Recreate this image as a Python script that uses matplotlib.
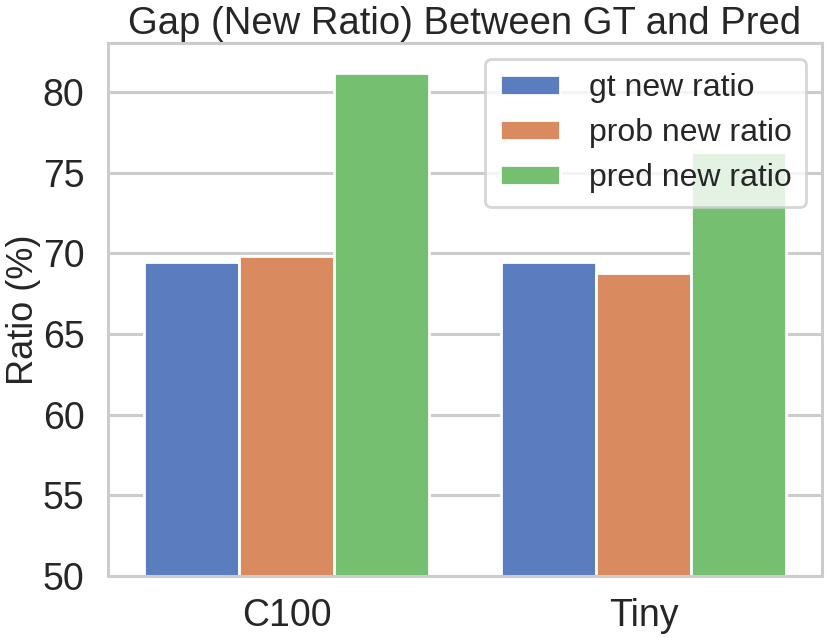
import pandas as pd
import seaborn as sns
import matplotlib
matplotlib.use("Agg")
import matplotlib.pyplot as plt

# ---- data ----
datasets = ["C100", "Tiny"]
gt_ratio = [69.45, 69.45]
prob_ratio = [69.85, 68.8]
pred_ratio = [81.15, 76.25]
series_names = ["gt new ratio", "prob new ratio", "pred new ratio"]

rows = []
for name, vals in zip(series_names, [gt_ratio, prob_ratio, pred_ratio]):
    for d, v in zip(datasets, vals):
        rows.append({"dataset": d, "type": name, "ratio": v})
df = pd.DataFrame(rows)

sns.set_theme(style="whitegrid", palette="muted")
plt.rcParams["font.family"] = ["Liberation Sans", "DejaVu Sans"]
plt.rcParams["axes.linewidth"] = 2.2
plt.rcParams["grid.linewidth"] = 2.2
plt.rcParams["axes.edgecolor"] = "#cccccc"
plt.rcParams["grid.color"] = "#cccccc"

fig, ax = plt.subplots(figsize=(8.31, 6.38), dpi=100)
fig.subplots_adjust(left=0.130, right=0.989, bottom=0.097, top=0.933)

sns.barplot(data=df, x="dataset", y="ratio", hue="type", ax=ax,
            linewidth=2, edgecolor="white")

ax.set_ylim(50, 83.05)
ax.set_xlim(-0.5, 1.5)
ax.set_xlabel("")
ax.set_ylabel("Ratio (%)", fontsize=26, labelpad=1)
ax.set_title("Gap (New Ratio) Between GT and Pred", fontsize=27.5, pad=6)
ax.tick_params(axis="y", labelsize=27, pad=11)
ax.tick_params(axis="x", labelsize=27, pad=10)

leg = ax.legend(loc="upper right", fontsize=23, framealpha=0.8,
                handlelength=1.88, handleheight=0.6, borderpad=0.45,
                labelspacing=0.47, handletextpad=0.9)
leg.get_frame().set_linewidth(2)

fig.savefig("out.png", dpi=100)
